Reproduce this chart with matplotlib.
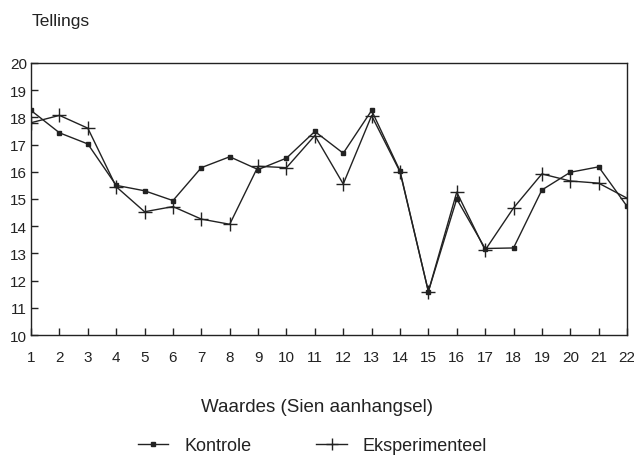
import matplotlib.pyplot as plt

# ================= Data ==================
waardes = list(range(1, 23))
kontrole = [18.25, 17.43, 17.02, 15.5, 15.3, 14.94, 16.15, 16.55, 16.08, 16.5, 17.48,
            16.68, 18.25, 16.03, 11.6, 15.0, 13.18, 13.2, 15.33, 15.98, 16.18, 14.73]
eksperimenteel = [17.8, 18.07, 17.6, 15.45, 14.53, 14.72, 14.26, 14.07, 16.2, 16.15, 17.33,
                  15.55, 18.06, 16.0, 11.6, 15.25, 13.12, 14.67, 15.92, 15.66, 15.58, 15.03]

plt.rcParams['font.family'] = ['Liberation Sans', 'DejaVu Sans']

# ================= Plot ==================
fig = plt.figure(figsize=(6.34, 4.56), dpi=100)
ax = fig.add_axes([0.049, 0.263, 0.94, 0.597])

ax.plot(waardes, kontrole, color="#222222", lw=1, marker="s", ms=3, label="Kontrole")
ax.plot(waardes, eksperimenteel, color="#222222", lw=1, marker="+", ms=10, mew=1,
        label="Eksperimenteel")

ax.set_xlim(1, 22)
ax.set_ylim(10, 20)
ax.set_xticks(waardes)
ax.set_yticks(range(10, 21))
ax.tick_params(direction="in", length=5, width=1, labelsize=11, color="#222222",
               labelcolor="#222222")
ax.tick_params(axis="x", pad=11)
ax.tick_params(axis="y", pad=3)
for s in ax.spines.values():
    s.set_color("#222222")
    s.set_linewidth(1)

fig.text(0.05, 0.952, "Tellings", fontsize=12.5, color="#222222", va="center")
fig.text(0.5, 0.107, "Waardes (Sien aanhangsel)", fontsize=13.5, color="#222222",
         ha="center", va="center")

fig.legend(loc="center", bbox_to_anchor=(0.493, 0.02), ncol=2, frameon=False,
           fontsize=13, handlelength=1.67, handletextpad=0.9, columnspacing=3.6,
           markerscale=0.9, labelcolor="#222222", borderpad=0)

fig.savefig("out.png", dpi=100)
